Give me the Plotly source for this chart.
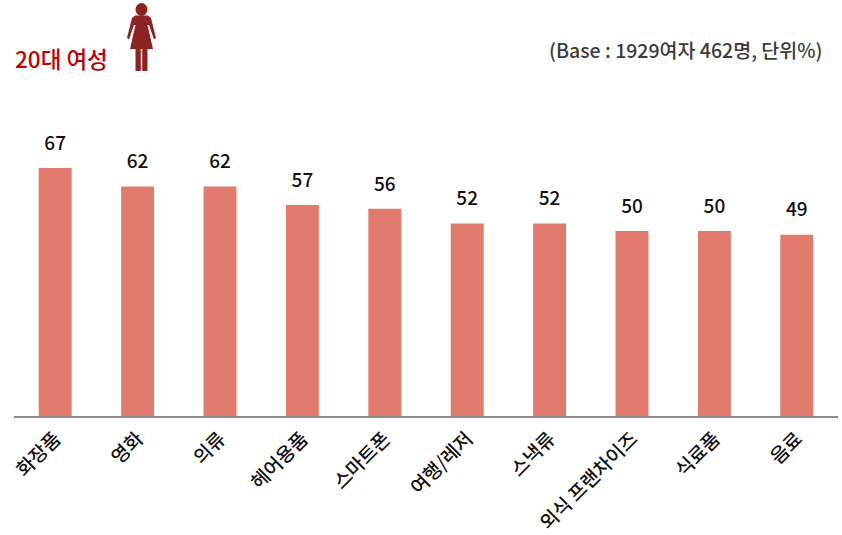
import plotly.graph_objects as go

categories = ["화장품", "영화", "의류", "헤어용품", "스마트폰", "여행/레저", "스낵류", "외식 프랜차이즈", "식료품", "음료"]
values = [67, 62, 62, 57, 56, 52, 52, 50, 50, 49]

W, H = 842, 535
LEFT, RIGHT, TOP, BASE = 14, 838, 70, 416
FONT = "Noto Sans CJK KR"


def px(x):
    return (x - LEFT) / (RIGHT - LEFT)


def py(y):
    return (BASE - y) / (BASE - TOP)


def path(points):
    return "M " + " L ".join(f"{px(x):.5f},{py(y):.5f}" for x, y in points) + " Z"


# Pictogram of a woman: head, dress with arms, two legs
ICON = "#8c2424"
dress = [(135, 15.5), (148, 15.5), (151, 18), (156, 38), (154, 39.5), (149, 25),
         (147.5, 25), (153, 49), (130, 49), (135.5, 25), (134, 25), (129, 39.5), (127, 38), (132, 18)]
left_leg = [(135.5, 48), (140.8, 48), (140.8, 71), (135.5, 71)]
right_leg = [(142.2, 48), (147.5, 48), (147.5, 71), (142.2, 71)]

shapes = [
    dict(type="circle", xref="paper", yref="paper", x0=px(135.5), x1=px(147.5), y0=py(16), y1=py(3),
         fillcolor=ICON, line_width=0, layer="above"),
]
for part in (dress, left_leg, right_leg):
    shapes.append(dict(type="path", xref="paper", yref="paper", path=path(part),
                       fillcolor=ICON, line_width=0, layer="above"))

fig = go.Figure()
fig.add_bar(
    x=categories,
    y=values,
    width=0.4,
    marker=dict(color="#e07a6c", line_width=0),
    hoverinfo="skip",
)
# Value labels sit on a transparent marker, whose size sets their gap above the bar
fig.add_scatter(
    x=categories,
    y=values,
    mode="markers+text",
    marker=dict(size=20, opacity=0),
    text=values,
    textposition="top center",
    cliponaxis=False,
    textfont=dict(family=FONT, size=19, color="#111111", weight=500),
    hoverinfo="skip",
)

fig.update_layout(
    width=W,
    height=H,
    margin=dict(l=LEFT, r=W - RIGHT, t=TOP, b=H - BASE, autoexpand=False),
    paper_bgcolor="white",
    plot_bgcolor="white",
    showlegend=False,
    shapes=shapes,
    annotations=[
        dict(text="20대 여성", xref="paper", yref="paper", x=px(12.5), y=py(58), xanchor="left", yanchor="middle",
             showarrow=False, font=dict(family=FONT, size=22.5, color="#c00000", weight=500)),
        dict(text="(Base : 1929여자 462명, 단위%)", xref="paper", yref="paper", x=px(825), y=py(50),
             xanchor="right", yanchor="middle", showarrow=False,
             font=dict(family=FONT, size=19.5, color="#3c3c3c", weight=500)),
    ],
    xaxis=dict(
        type="category",
        range=[-0.5, 9.5],
        tickangle=-45,
        ticks="",
        showline=True,
        linecolor="#8c8c8c",
        linewidth=2,
        showgrid=False,
        ticklabelstandoff=2,
        tickfont=dict(family=FONT, size=19.2, color="#111111", weight=500),
    ),
    yaxis=dict(visible=False, range=[0, 93.5]),
    bargap=0.6,
)

fig.write_html("out.html", config=dict(displayModeBar=False))
